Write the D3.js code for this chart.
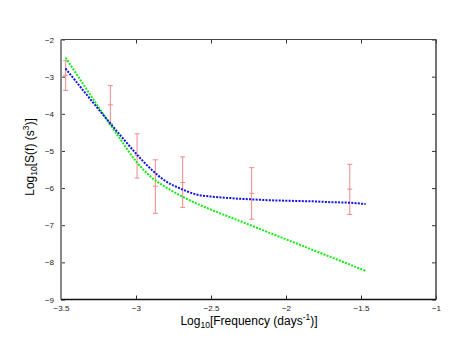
<!DOCTYPE html>
<html>
<head>
<meta charset="utf-8">
<script src="https://cdn.jsdelivr.net/npm/d3@7"></script>
<style>
  body { margin: 0; background: #fff; }
  svg { display: block; }
  .tick text { font-family: "Liberation Sans", Arial, sans-serif; font-size: 8px; fill: #222; }
  .tick line { stroke: #333; }
  .title { font-family: "Liberation Sans", Arial, sans-serif; font-size: 12px; fill: #000; }
</style>
</head>
<body>
<div id="chart"></div>
<script>
const width = 463;
const height = 358;

// measured spectrum with error bars (log10 f, log10 S, low, high)
const obsFreq = [-3.469, -3.171, -2.993, -2.871, -2.689, -2.229, -1.575];
const obsVal  = [-2.96, -3.76, -5.13, -5.95, -5.85, -6.14, -6.03];
const obsLow  = [-3.37, -4.27, -5.73, -6.68, -6.52, -6.84, -6.71];
const obsHigh = [-2.57, -3.24, -4.54, -5.24, -5.16, -5.45, -5.36];

// model curves
const greenFreq = [-3.47, -3.40, -3.30, -3.20, -3.10, -3.00, -2.90, -2.80, -2.70, -2.60, -2.50, -2.40, -2.30, -2.20, -2.10, -2.00, -1.90, -1.80, -1.70, -1.60, -1.469];
const greenVal  = [-2.49, -2.91, -3.52, -4.12, -4.71, -5.28, -5.70, -5.98, -6.21, -6.41, -6.58, -6.74, -6.90, -7.06, -7.22, -7.38, -7.54, -7.70, -7.86, -8.02, -8.23];

const blueFreq = [-3.47, -3.40, -3.30, -3.20, -3.10, -3.00, -2.90, -2.80, -2.70, -2.60, -2.50, -2.40, -2.30, -2.20, -2.10, -2.00, -1.90, -1.80, -1.70, -1.60, -1.469];
const blueVal  = [-2.78, -3.13, -3.63, -4.12, -4.60, -5.07, -5.49, -5.82, -6.02, -6.17, -6.23, -6.26, -6.29, -6.31, -6.33, -6.34, -6.35, -6.36, -6.38, -6.39, -6.43];

const xTicks = [-3.5, -3, -2.5, -2, -1.5, -1];
const yTicks = [-9, -8, -7, -6, -5, -4, -3, -2];

const plotLeft = 61, plotRight = 436, plotTop = 39.5, plotBottom = 299.5;

var svg = d3.select("#chart").append("svg")
    .attr("width", width)
    .attr("height", height);

var xScale = d3.scaleLinear().domain([-3.5, -1]).range([plotLeft, plotRight]);
var yScale = d3.scaleLinear().domain([-9, -2]).range([plotBottom, plotTop]);

// axes, ticks pointing inward
svg.append("g")
    .attr("transform", "translate(0," + plotBottom + ")")
    .call(d3.axisBottom(xScale).tickValues(xTicks).tickSizeInner(-4).tickSizeOuter(0).tickPadding(6).tickFormat(d3.format("")))
    .call(g => g.select(".domain").remove());

svg.append("g")
    .attr("transform", "translate(0," + plotTop + ")")
    .call(d3.axisTop(xScale).tickValues(xTicks).tickSizeInner(-4).tickSizeOuter(0).tickFormat(""))
    .call(g => g.select(".domain").remove());

svg.append("g")
    .attr("transform", "translate(" + plotLeft + ",0)")
    .call(d3.axisLeft(yScale).tickValues(yTicks).tickSizeInner(-4).tickSizeOuter(0).tickPadding(7).tickFormat(d3.format("")))
    .call(g => g.select(".domain").remove());

svg.append("g")
    .attr("transform", "translate(" + plotRight + ",0)")
    .call(d3.axisRight(yScale).tickValues(yTicks).tickSizeInner(-4).tickSizeOuter(0).tickFormat(""))
    .call(g => g.select(".domain").remove());

// frame
svg.append("line").attr("x1", plotLeft).attr("x2", plotRight).attr("y1", plotTop).attr("y2", plotTop)
    .attr("stroke", "#444").attr("stroke-width", 1.2);
svg.append("line").attr("x1", plotRight).attr("x2", plotRight).attr("y1", plotTop).attr("y2", plotBottom)
    .attr("stroke", "#444").attr("stroke-width", 1.5);
svg.append("line").attr("x1", plotLeft).attr("x2", plotLeft).attr("y1", plotTop).attr("y2", plotBottom)
    .attr("stroke", "#888").attr("stroke-width", 2);
svg.append("line").attr("x1", plotLeft).attr("x2", plotRight).attr("y1", plotBottom).attr("y2", plotBottom)
    .attr("stroke", "#111").attr("stroke-width", 1.5);

// error bars
var obs = obsFreq.map(function(f, i) {
    return {f: f, v: obsVal[i], lo: obsLow[i], hi: obsHigh[i]};
});
var bars = svg.append("g").attr("stroke", "#f08a8a").attr("stroke-width", 1);
obs.forEach(function(d) {
    var cx = xScale(d.f);
    bars.append("line").attr("x1", cx).attr("x2", cx).attr("y1", yScale(d.hi)).attr("y2", yScale(d.lo));
    [d.hi, d.v, d.lo].forEach(function(v) {
        bars.append("line").attr("x1", cx - 2.5).attr("x2", cx + 2.5).attr("y1", yScale(v)).attr("y2", yScale(v));
    });
});

// model curves, dotted
var line = d3.line()
    .x(function(d) { return xScale(d[0]); })
    .y(function(d) { return yScale(d[1]); })
    .curve(d3.curveMonotoneX);

svg.append("path")
    .datum(greenFreq.map(function(f, i) { return [f, greenVal[i]]; }))
    .attr("d", line)
    .attr("fill", "none")
    .attr("stroke", "#11ee11")
    .attr("stroke-width", 2)
    .attr("stroke-dasharray", "2,1.3");

svg.append("path")
    .datum(blueFreq.map(function(f, i) { return [f, blueVal[i]]; }))
    .attr("d", line)
    .attr("fill", "none")
    .attr("stroke", "#1111ee")
    .attr("stroke-width", 2)
    .attr("stroke-dasharray", "2,1.3");

// axis titles
var xt = svg.append("text").attr("class", "title")
    .attr("x", 249).attr("y", 325)
    .attr("text-anchor", "middle");
xt.append("tspan").text("Log");
xt.append("tspan").attr("font-size", "8.5px").attr("dy", 3).text("10");
xt.append("tspan").attr("dy", -3).text("[Frequency (days");
xt.append("tspan").attr("font-size", "8.5px").attr("dy", -5).text("-1");
xt.append("tspan").attr("dy", 5).text(")]");

var yt = svg.append("text").attr("class", "title")
    .attr("transform", "translate(33.5,157) rotate(-90)")
    .attr("text-anchor", "middle");
yt.append("tspan").text("Log");
yt.append("tspan").attr("font-size", "8.5px").attr("dy", 3).text("10");
yt.append("tspan").attr("dy", -3).text("[S(f) (s");
yt.append("tspan").attr("font-size", "8.5px").attr("dy", -5).text("3");
yt.append("tspan").attr("dy", 5).text(")]");
</script>
</body>
</html>
